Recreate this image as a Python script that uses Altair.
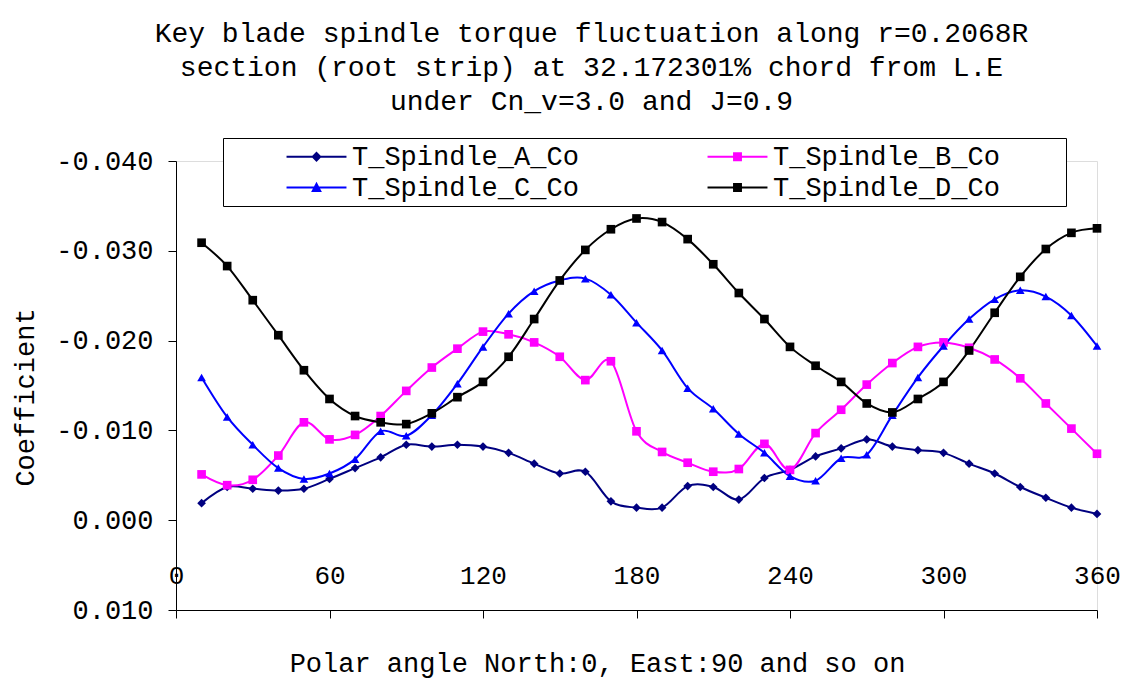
import altair as alt
import pandas as pd

# ---- data ----
angles = list(range(10, 361, 10))
series_names = ["T_Spindle_A_Co", "T_Spindle_B_Co", "T_Spindle_C_Co", "T_Spindle_D_Co"]

a_vals = [-0.0019, -0.0037, -0.0035, -0.0033, -0.0035, -0.0046, -0.0058, -0.0070, -0.0084, -0.0082,
          -0.0084, -0.0082, -0.0075, -0.0063, -0.0052, -0.0054, -0.0021, -0.0014, -0.0014, -0.0038,
          -0.0037, -0.0023, -0.0047, -0.0056, -0.0071, -0.0080, -0.0090, -0.0082, -0.0078, -0.0075,
          -0.0063, -0.0052, -0.0037, -0.0025, -0.0014, -0.0007]
b_vals = [-0.0051, -0.0039, -0.0045, -0.0072, -0.0109, -0.0090, -0.0095, -0.0116, -0.0144, -0.0170,
          -0.0191, -0.0210, -0.0207, -0.0198, -0.0182, -0.0156, -0.0177, -0.0099, -0.0076, -0.0064,
          -0.0054, -0.0057, -0.0085, -0.0056, -0.0097, -0.0123, -0.0151, -0.0175, -0.0193, -0.0198,
          -0.0192, -0.0179, -0.0158, -0.0130, -0.0102, -0.0074]
c_vals = [-0.0159, -0.0115, -0.0084, -0.0058, -0.0046, -0.0052, -0.0068, -0.0099, -0.0094, -0.0117,
          -0.0152, -0.0193, -0.0230, -0.0255, -0.0267, -0.0269, -0.0251, -0.0220, -0.0189, -0.0147,
          -0.0124, -0.0096, -0.0075, -0.0049, -0.0044, -0.0069, -0.0073, -0.0117, -0.0159, -0.0194,
          -0.0224, -0.0246, -0.0256, -0.0249, -0.0228, -0.0194]
d_vals = [-0.0309, -0.0283, -0.0245, -0.0206, -0.0167, -0.0135, -0.0116, -0.0109, -0.0107, -0.0119,
          -0.0137, -0.0154, -0.0182, -0.0224, -0.0267, -0.0301, -0.0324, -0.0336, -0.0332, -0.0313,
          -0.0285, -0.0253, -0.0224, -0.0193, -0.0172, -0.0154, -0.0130, -0.0120, -0.0135, -0.0154,
          -0.0189, -0.0231, -0.0271, -0.0302, -0.0320, -0.0325]

x_ticks = [0, 60, 120, 180, 240, 300, 360]
y_ticks = [-0.040, -0.030, -0.020, -0.010, 0.000, 0.010]

title_lines = [
    "Key blade spindle torque fluctuation along r=0.2068R",
    "section (root strip) at 32.172301% chord from L.E",
    "under Cn_v=3.0 and J=0.9",
]
x_title = "Polar angle North:0, East:90 and so on"
y_title = "Coefficient"

# ---- styles ----
colors = ["#000080", "#FF00FF", "#0000FF", "#000000"]
marker_shapes = ["diamond", "square", "triangle-up", "square"]
marker_sizes = [75, 75, 100, 75]
# legend symbols: a short line segment with the marker in its middle
legend_shapes = [
    "M-2.22,-0.07H2.22V0.07H-2.22Z M0,-0.38L0.38,0L0,0.38L-0.38,0Z",
    "M-2.22,-0.07H2.22V0.07H-2.22Z M-0.33,-0.33H0.33V0.33H-0.33Z",
    "M-2.22,-0.07H2.22V0.07H-2.22Z M0,-0.42L0.4,0.33H-0.4Z",
    "M-2.22,-0.07H2.22V0.07H-2.22Z M-0.33,-0.33H0.33V0.33H-0.33Z",
]
FONT = "Liberation Mono"

rows = []
for name, vals in zip(series_names, [a_vals, b_vals, c_vals, d_vals]):
    for ang, v in zip(angles, vals):
        rows.append({"angle": ang, "value": v, "series": name})
df = pd.DataFrame(rows)

x_enc = alt.X(
    "angle:Q",
    scale=alt.Scale(domain=[0, 360], nice=False),
    axis=alt.Axis(
        values=x_ticks, title=x_title, grid=False,
        labelFont=FONT, labelFontSize=26, labelColor="black",
        labelPadding=-43, labelBaseline="middle", labelFlush=False, labelOverlap=False,
        tickSize=8, tickColor="black", domainColor="black", tickWidth=1, domainWidth=1,
        titleFont=FONT, titleFontSize=27, titleFontWeight="normal", titleColor="black",
        titleX=421, titleY=53, titleAlign="center", titleBaseline="middle",
    ),
)
y_enc = alt.Y(
    "value:Q",
    scale=alt.Scale(domain=[-0.04, 0.01], reverse=True, nice=False, zero=False),
    axis=alt.Axis(
        values=y_ticks, title=y_title, grid=False,
        labelExpr="(datum.value < -0.0000001 ? '-' : '') + format(abs(datum.value), '.3f')",
        labelFont=FONT, labelFontSize=27, labelColor="black", labelPadding=15,
        tickSize=8, tickColor="black", domainColor="black", tickWidth=1, domainWidth=1,
        titleFont=FONT, titleFontSize=27, titleFontWeight="normal", titleColor="black",
        titleAngle=270, titleX=-151, titleY=236, titleAlign="center", titleBaseline="middle",
    ),
)

color_scale = alt.Scale(domain=series_names, range=colors)

base = alt.Chart(df).encode(x=x_enc, y=y_enc)

lines = base.mark_line(interpolate="cardinal", strokeWidth=2).encode(
    color=alt.Color("series:N", scale=color_scale, legend=None)
)

points = base.mark_point(filled=True, opacity=1).encode(
    color=alt.Color("series:N", scale=color_scale, legend=None),
    shape=alt.Shape("series:N", scale=alt.Scale(domain=series_names, range=marker_shapes), legend=None),
    size=alt.Size("series:N", scale=alt.Scale(domain=series_names, range=marker_sizes), legend=None),
)

legend_kw = dict(
    title="\u00a0", titleOrient="right", titlePadding=61, titleFont=FONT, titleFontSize=27,
    orient="none", legendX=47, legendY=-23, columns=2, direction="horizontal",
    labelFont=FONT, labelFontSize=27, labelColor="black", labelLimit=600, labelOffset=22,
    symbolSize=729, symbolStrokeWidth=0, symbolOffset=75, columnPadding=70, rowPadding=3,
    padding=5, strokeColor="black", fillColor="white",
)

legend_layer = base.mark_point(filled=True, opacity=1).transform_filter("false").encode(
    color=alt.Color("series:N", scale=color_scale, legend=alt.Legend(**legend_kw)),
    shape=alt.Shape("series:N", scale=alt.Scale(domain=series_names, range=legend_shapes),
                    legend=alt.Legend(**legend_kw)),
)

chart = (
    alt.layer(lines, points, legend_layer)
    .resolve_scale(shape="independent")
    .resolve_legend(color="independent", shape="independent")
    .properties(
        width=921, height=449,
        autosize=alt.AutoSizeParams(type="none"),
        padding={"left": 168, "top": 153, "right": 24, "bottom": 78},
        title=alt.TitleParams(
            text=title_lines, font=FONT, fontSize=28, fontWeight="normal", color="black",
            anchor="middle", dx=-45, offset=22, lineHeight=34,
        ),
    )
    .configure_view(stroke="transparent")
    .configure(background="white")
)

chart.save("out.html", embed_options={"renderer": "svg", "actions": False})
